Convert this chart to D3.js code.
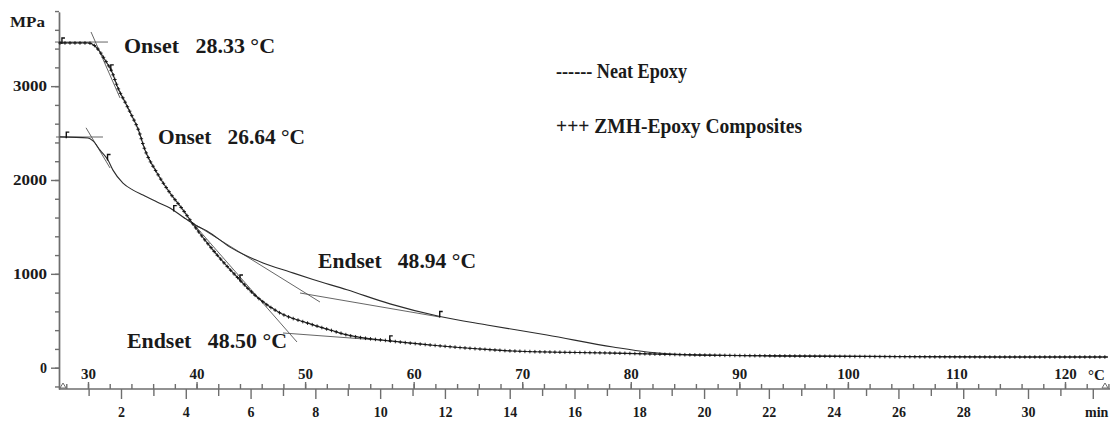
<!DOCTYPE html>
<html>
<head>
<meta charset="utf-8">
<script src="https://cdn.jsdelivr.net/npm/d3@7"></script>
<style>
  body { margin: 0; background: #fff; }
</style>
</head>
<body>
<svg id="chart" width="1115" height="422"></svg>
<script>
// storage modulus (MPa) vs temperature (°C)
var zmhTemp = [27.42, 30.0, 30.64, 31.11, 31.57, 32.21, 32.76, 33.41, 34.05, 34.61, 35.25, 36.36, 37.55, 38.75, 39.86,
  41.51, 43.73, 45.57, 47.69, 50.17, 52.29, 53.86, 57.82, 61.5, 66.11, 69.15, 78.36, 86.38, 95.59, 114.0, 123.96];
var zmhMod = [3460, 3460, 3428, 3364, 3279, 3151, 2980, 2831, 2682, 2544, 2320, 2075, 1862, 1681, 1499,
  1254, 966, 753, 583, 477, 402, 349, 285, 242, 199, 178, 156, 135, 124, 114, 114];

var neatTemp = [27.42, 30.0, 30.46, 31.11, 31.84, 32.3, 33.22, 34.15, 35.07, 36.36, 37.55, 38.75, 39.86, 40.96, 43.08,
  46.12, 48.61, 50.73, 53.86, 57.82, 62.42, 66.75, 72.28, 78.36, 81.49, 86.38, 95.59, 114.0, 123.96];
var neatMod = [2459, 2448, 2416, 2318, 2212, 2105, 1967, 1892, 1839, 1765, 1702, 1606, 1521, 1457, 1285,
  1116, 1020, 940, 830, 680, 545, 455, 348, 221, 167, 135, 124, 114, 114];

// onset / endset construction lines [t1, mpa1, t2, mpa2]
var zmhTangents = [
  [26.96, 3470, 31.84, 3470],
  [30.28, 3577, 32.95, 2874],
  [39.4, 1574, 49.25, 274],
  [47.96, 370, 57.82, 285]
];
var neatTangents = [
  [27.05, 2458, 31.38, 2458],
  [29.82, 2556, 32.03, 2128],
  [38.75, 1606, 51.37, 700],
  [49.53, 796, 62.42, 540]
];

// small software flags sitting on the traces
var zmhFlags = [27.6, 32.1, 44.0, 57.8];
var neatFlags = [28.0, 31.8, 37.9, 62.4];

var annoText = ["Onset   28.33 °C", "Onset   26.64 °C", "Endset   48.94 °C", "Endset   48.50 °C"];
var annoTemp = [33.32, 36.45, 51.19, 33.59];
var annoMod = [3353, 2384, 1062, 210];
var annoWidth = [151, 147, 158, 160];

var yMajor = [0, 1000, 2000, 3000];
var tempLabels = [30, 40, 50, 60, 70, 80, 90, 100, 110, 120];
var timeLabels = [2, 4, 6, 8, 10, 12, 14, 16, 18, 20, 22, 24, 26, 28, 30];

const plotLeft = 59, plotRight = 1110, axisY = 389, plotTop = 12;
const lineColor = "#2b2b2b", axisColor = "#6e6e6e";
const serif = '"Liberation Serif", "Times New Roman", serif';

var svg = d3.select("#chart");

var x = d3.scaleLinear().domain([30, 120]).range([88, 1065]);
var xMin = d3.scaleLinear().domain([2, 30]).range([121, 1028]);
var y = d3.scaleLinear().domain([-227, 3790]).range([axisY, plotTop]);

// ---- y axis
var yMinor = svg.append("g")
  .attr("transform", "translate(" + plotLeft + ",0)")
  .call(d3.axisLeft(y).tickValues(d3.range(-200, 3801, 200)).tickSize(4).tickSizeOuter(0).tickFormat(""));
var yAxis = svg.append("g")
  .attr("transform", "translate(" + plotLeft + ",0)")
  .call(d3.axisLeft(y).tickValues(yMajor).tickSize(8).tickSizeOuter(0).tickPadding(4).tickFormat(d3.format("d")));
svg.selectAll(".domain, .tick line").attr("stroke", axisColor).attr("stroke-width", 1.4);
yAxis.selectAll("text").style("font-size", "14px")
  .each(function (d) {
    if (d >= 1000) d3.select(this).attr("textLength", 34).attr("lengthAdjust", "spacingAndGlyphs");
  });

svg.append("text").attr("x", 10).attr("y", 27).style("font-size", "14px")
  .attr("textLength", 35).attr("lengthAdjust", "spacingAndGlyphs").text("MPa");

// ---- x axis: temperature above, time below
var tMinor = svg.append("g")
  .attr("transform", "translate(0," + axisY + ")")
  .call(d3.axisTop(x).tickValues(d3.range(28, 125, 2)).tickSize(5).tickFormat(""));
var tMajor = svg.append("g")
  .attr("transform", "translate(0," + axisY + ")")
  .call(d3.axisTop(x).tickValues(tempLabels).tickSize(7).tickPadding(3));
var mMinor = svg.append("g")
  .attr("transform", "translate(0," + axisY + ")")
  .call(d3.axisBottom(xMin).tickValues(d3.range(1, 32, 2)).tickSize(7).tickFormat(""));
var mMajor = svg.append("g")
  .attr("transform", "translate(0," + axisY + ")")
  .call(d3.axisBottom(xMin).tickValues(d3.range(2, 33, 2)).tickSize(10).tickPadding(8)
    .tickFormat(function (d) { return timeLabels.indexOf(d) >= 0 ? d : ""; }));
[tMinor, tMajor, mMinor, mMajor].forEach(function (g) {
  g.select(".domain").remove();
  g.selectAll(".tick line").attr("stroke", axisColor).attr("stroke-width", 1.4);
});
tMajor.selectAll("text").style("font-size", "15px");
mMajor.selectAll("text").style("font-size", "14px");

svg.append("line")
  .attr("x1", plotLeft).attr("x2", plotRight).attr("y1", axisY).attr("y2", axisY)
  .attr("stroke", axisColor).attr("stroke-width", 1.6);

// little triangles at both ends of the base line
svg.append("path")
  .attr("d", "M" + (plotLeft + 1) + "," + (axisY - 1) + "l6,0l-3,-5z")
  .attr("fill", "none").attr("stroke", axisColor).attr("stroke-width", 1);
svg.append("path")
  .attr("d", "M" + (plotRight - 8) + "," + (axisY - 1) + "l6,0l-3,-5z")
  .attr("fill", "none").attr("stroke", axisColor).attr("stroke-width", 1);

svg.append("text").attr("x", 1088).attr("y", 380).style("font-size", "15px").text("°C");
svg.append("text").attr("x", 1085).attr("y", 417).style("font-size", "14px").text("min");

// ---- construction lines
function drawTangents(list) {
  svg.append("g").selectAll("line")
    .data(list).enter().append("line")
    .attr("x1", function (d) { return x(d[0]); })
    .attr("y1", function (d) { return y(d[1]); })
    .attr("x2", function (d) { return x(d[2]); })
    .attr("y2", function (d) { return y(d[3]); })
    .attr("stroke", "#555").attr("stroke-width", 0.9);
}
drawTangents(zmhTangents);
drawTangents(neatTangents);

// ---- curves
var line = d3.line()
  .x(function (d) { return x(d[0]); })
  .y(function (d) { return y(d[1]); })
  .curve(d3.curveMonotoneX);

var neatData = d3.zip(neatTemp, neatMod);
var zmhData = d3.zip(zmhTemp, zmhMod);

svg.append("path").datum(neatData)
  .attr("d", line).attr("fill", "none")
  .attr("stroke", lineColor).attr("stroke-width", 1.1);

var zmhPath = svg.append("path").datum(zmhData)
  .attr("d", line).attr("fill", "none")
  .attr("stroke", lineColor).attr("stroke-width", 1.2);

// "+" markers spaced along the ZMH trace
var node = zmhPath.node(), total = node.getTotalLength();
var marks = d3.range(0, total, 5).map(function (l) { return node.getPointAtLength(l); });
svg.append("g").selectAll("path")
  .data(marks).enter().append("path")
  .attr("d", function (p) {
    return "M" + (p.x - 1.8) + "," + p.y + "h3.6M" + p.x + "," + (p.y - 1.8) + "v3.6";
  })
  .attr("stroke", "#111").attr("stroke-width", 0.9);

// flags
function drawFlags(temps, tArr, mArr) {
  var interp = d3.scaleLinear().domain(tArr).range(mArr);
  svg.append("g").selectAll("path")
    .data(temps).enter().append("path")
    .attr("d", function (t) {
      var px = x(t), py = y(interp(t));
      return "M" + px + "," + (py + 1) + "v-6h3";
    })
    .attr("fill", "none").attr("stroke", "#111").attr("stroke-width", 1.4);
}
drawFlags(zmhFlags, zmhTemp, zmhMod);
drawFlags(neatFlags, neatTemp, neatMod);

// ---- annotations
svg.append("g").selectAll("text")
  .data(annoText).enter().append("text")
  .attr("x", function (d, i) { return x(annoTemp[i]); })
  .attr("y", function (d, i) { return y(annoMod[i]); })
  .attr("textLength", function (d, i) { return annoWidth[i]; })
  .attr("lengthAdjust", "spacingAndGlyphs")
  .style("font-size", "21px")
  .style("white-space", "pre")
  .text(function (d) { return d; });

// ---- legend
svg.append("text").attr("x", 556).attr("y", 78).style("font-size", "21px")
  .attr("textLength", 131).attr("lengthAdjust", "spacingAndGlyphs").text("------ Neat Epoxy");
svg.append("text").attr("x", 556).attr("y", 133).style("font-size", "21px")
  .attr("textLength", 246).attr("lengthAdjust", "spacingAndGlyphs").text("+++ ZMH-Epoxy Composites");

// one serif face for every label
svg.selectAll("text")
  .style("font-family", serif)
  .style("font-weight", "bold")
  .attr("fill", "#1a1a1a");
</script>
</body>
</html>
